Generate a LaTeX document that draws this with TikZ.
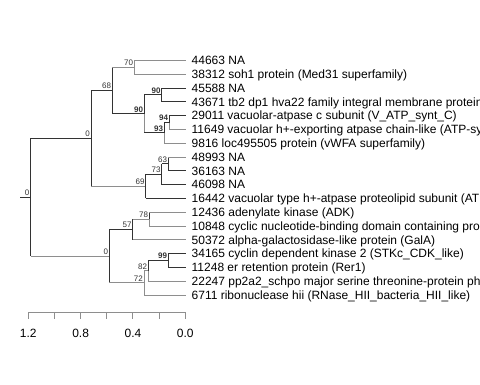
\documentclass[tikz,border=0pt]{standalone}
\usepackage{fontspec}
\usetikzlibrary{calc}
\setmainfont{Liberation Sans}
\definecolor{dk}{HTML}{333333}
\definecolor{gr}{HTML}{8E8E8E}
\tikzset{
  leaflabel/.style={anchor=base west, inner sep=0pt, font=\fontsize{12}{14}\selectfont, text=black},
  bs/.style={anchor=south east, inner sep=0pt, font=\fontsize{8}{9}\selectfont, text=dk},
  bsb/.style={bs, font=\fontsize{8}{9}\selectfont\bfseries},
  ticklabel/.style={anchor=base, inner sep=0pt, font=\fontsize{12}{14}\selectfont, text=black},
  edge/.style={line width=1pt, line cap=butt},
}
% parent, child, vertical colour, horizontal colour
\newcommand{\treeedge}[4]{%
  \draw[edge,#3] (#1) -- (#1 |- #2);
  \draw[edge,#4] (#1 |- #2) -- (#2);}
\begin{document}
\begin{tikzpicture}[x=1pt,y=-1pt]
\useasboundingbox (0,0) rectangle (480,384);
\clip (0,0) rectangle (480,384);
% leaf tips and labels
\foreach \i/\t in {
 1/{44663 NA},
 2/{38312 soh1 protein (Med31 superfamily)},
 3/{45588 NA},
 4/{43671 tb2 dp1 hva22 family integral membrane protein},
 5/{29011 vacuolar-atpase c subunit (V\_ATP\_synt\_C)},
 6/{11649 vacuolar h+-exporting atpase chain-like (ATP-syn},
 7/{9816 loc495505 protein (vWFA superfamily)},
 8/{48993 NA},
 9/{36163 NA},
 10/{46098 NA},
 11/{16442 vacuolar type h+-atpase proteolipid subunit (AT},
 12/{12436 adenylate kinase (ADK)},
 13/{10848 cyclic nucleotide-binding domain containing pro},
 14/{50372 alpha-galactosidase-like protein (GalA)},
 15/{34165 cyclin dependent kinase 2 (STKc\_CDK\_like)},
 16/{11248 er retention protein (Rer1)},
 17/{22247 pp2a2\_schpo major serine threonine-protein ph},
 18/{6711 ribonuclease hii (RNase\_HII\_bacteria\_HII\_like)}}{
  \pgfmathsetmacro{\yy}{60.4+13.8*(\i-1)}
  \coordinate (t\i) at (185.5,\yy);
  \node[leaflabel] (l\i) at (191.5,\yy+4.3) {\t};
}
% internal nodes
\coordinate (stub) at (20,197.3);
\coordinate (root) at (30.5,197.3);
\coordinate (nU) at (91,138.45);
\coordinate (nL) at (109.3,256.2);
\coordinate (n68) at (112.3,90.6);
\coordinate (n69) at (145.7,186.3);
\coordinate (n70) at (134.3,67.3);
\coordinate (n90b) at (144.3,113.9);
\coordinate (n90a) at (161.7,94.9);
\coordinate (n93) at (164.3,132.85);
\coordinate (n94) at (169.3,122.5);
\coordinate (n73) at (161.7,174.25);
\coordinate (n63) at (168.3,163.9);
\coordinate (n57) at (132.7,229.45);
\coordinate (n78) at (149.3,219.1);
\coordinate (n72) at (144,282.9);
\coordinate (n82) at (148.3,270.85);
\coordinate (n99) at (168.3,260.5);
% edges
\draw[edge,dk] (stub) -- (root);
\treeedge{root}{nU}{dk}{dk}
\treeedge{root}{nL}{dk}{gr}
\treeedge{nU}{n68}{dk}{dk}
\treeedge{nU}{n69}{dk}{gr}
\treeedge{n68}{n70}{dk}{gr}
\treeedge{n68}{n90b}{dk}{dk}
\treeedge{n70}{t1}{gr}{gr}
\treeedge{n70}{t2}{gr}{gr}
\treeedge{n90b}{n90a}{dk}{dk}
\treeedge{n90b}{n93}{gr}{dk}
\treeedge{n90a}{t3}{dk}{dk}
\treeedge{n90a}{t4}{dk}{dk}
\treeedge{n93}{n94}{dk}{dk}
\treeedge{n93}{t7}{gr}{gr}
\treeedge{n94}{t5}{dk}{dk}
\treeedge{n94}{t6}{gr}{gr}
\treeedge{n69}{n73}{dk}{dk}
\treeedge{n69}{t11}{dk}{dk}
\treeedge{n73}{n63}{dk}{dk}
\treeedge{n73}{t10}{dk}{dk}
\treeedge{n63}{t8}{dk}{gr}
\treeedge{n63}{t9}{dk}{dk}
\treeedge{nL}{n57}{dk}{dk}
\treeedge{nL}{n72}{dk}{gr}
\treeedge{n57}{n78}{dk}{gr}
\treeedge{n57}{t14}{dk}{gr}
\treeedge{n78}{t12}{dk}{gr}
\treeedge{n78}{t13}{gr}{gr}
\treeedge{n72}{n82}{gr}{gr}
\treeedge{n72}{t18}{gr}{gr}
\treeedge{n82}{n99}{dk}{dk}
\treeedge{n82}{t17}{gr}{gr}
\treeedge{n99}{t15}{dk}{dk}
\treeedge{n99}{t16}{dk}{dk}
% bootstrap labels
\node[bs] (b0r) at ([xshift=-1pt,yshift=1.5pt]root) {0};
\node[bs] (b0u) at ([xshift=-1pt,yshift=1.5pt]nU) {0};
\node[bs] (b0l) at ([xshift=-1pt,yshift=1.5pt]nL) {0};
\node[bs] (b68) at ([xshift=-1pt,yshift=1.5pt]n68) {68};
\node[bs] (b70) at ([xshift=-1pt,yshift=1.5pt]n70) {70};
\node[bsb] (b90b) at ([xshift=-1pt,yshift=1.5pt]n90b) {90};
\node[bsb] (b90a) at ([xshift=-1pt,yshift=1.5pt]n90a) {90};
\node[bsb] (b93) at ([xshift=-1pt,yshift=1.5pt]n93) {93};
\node[bsb] (b94) at ([xshift=-1pt,yshift=1.5pt]n94) {94};
\node[bs] (b69) at ([xshift=-1pt,yshift=1.5pt]n69) {69};
\node[bs] (b73) at ([xshift=-1pt,yshift=1.5pt]n73) {73};
\node[bs] (b63) at ([xshift=-1pt,yshift=1.5pt]n63) {63};
\node[bs] (b57) at ([xshift=-1pt,yshift=1.5pt]n57) {57};
\node[bs] (b78) at ([xshift=-1pt,yshift=1.5pt]n78) {78};
\node[bs] (b72) at ([xshift=-1pt,yshift=1.5pt]n72) {72};
\node[bs] (b82) at ([xshift=-1pt,yshift=1.5pt]n82) {82};
\node[bsb] (b99) at ([xshift=-1pt,yshift=1.5pt]n99) {99};
% scale axis
\coordinate (a0) at (28.3,312.3);
\coordinate (a6) at (185.3,312.3);
\draw[edge,gr] (a0) -- (a6);
\foreach \k in {0,...,6}{
  \draw[edge,gr] ($(a0)!\k/6!(a6)$) -- ++(0,6.7);
}
\node[ticklabel] (x12) at (28.3,337.6) {1.2};
\node[ticklabel] (x08) at (80.6,337.6) {0.8};
\node[ticklabel] (x04) at (133,337.6) {0.4};
\node[ticklabel] (x00) at (185.3,337.6) {0.0};
\end{tikzpicture}
\end{document}
